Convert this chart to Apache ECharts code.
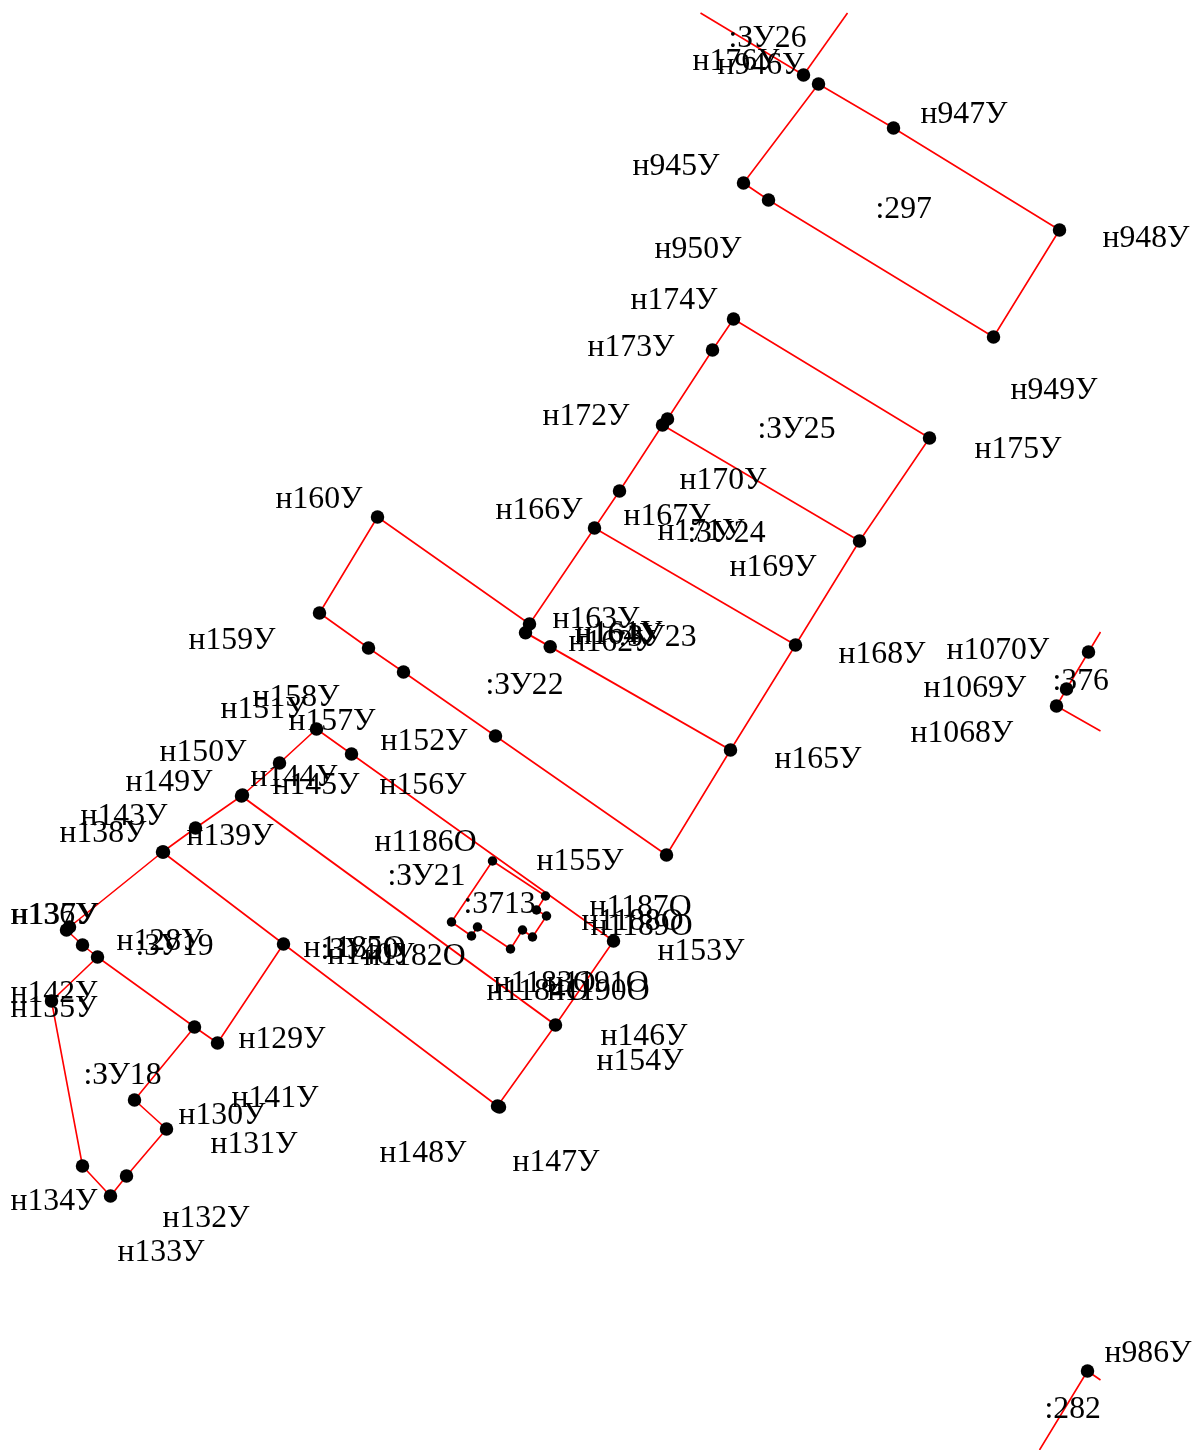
<!DOCTYPE html>
<html><head><meta charset="utf-8">
<style>html,body{margin:0;padding:0;background:#fff}#c{width:1192px;height:1450px}</style>
<script src="https://cdn.jsdelivr.net/npm/echarts@6/dist/echarts.min.js"></script>
</head><body><div id="c"></div>
<script>
// boundary polylines, in drawing units
const boundaries = [
 [[700,13],[803,75]], [[847,13],[803,75]],
 [[818,84],[893,128],[1059,230],[993,337],[768,200],[743,183],[818,84]],
 [[733,319],[929,438],[859,541],[795,645],[730,750],[666,855],[495,736],[403,672],[368,648],[319,613],[377,517],[529,624],[525,632.7]],
 [[733,319],[712,350],[667,419],[662,425],[619,491],[594,528],[529,624]],
 [[662,425],[859,541]],
 [[594,528],[795,645]],
 [[316,729],[279,763],[241,796],[195,828],[162,852],[69,927],[66,930],[82,945],[97,957],[194,1027],[217,1043],[283,944],[162,852]],
 [[283,944],[497,1106],[499,1107],[555,1025],[613,941],[351,754],[316,729]],
 [[97,957],[51,1001],[82,1166],[110,1196],[126,1176],[166,1129],[134,1100],[194,1027]],
 [[492,861],[451,922],[471,936],[477,927],[510,949],[522,930],[532,937],[546,916],[536,910],[545,896],[492,861]],
 [[1100,632],[1088,652],[1066,689],[1056,706],[1100,731]],
 [[1100,1380],[1087,1371],[1039,1450]]
];
// boundaries drawn twice in the source, so they read slightly heavier
const sharedBoundaries = [
 [[525,632.7],[730,750]],
 [[241,796],[555,1025]]
];
const pointsLarge = [
 [803,75],[818,84],[893,128],[1059,230],[993,337],[768,200],[743,183],
 [733,319],[712,350],[667,419],[662,425],[929,438],[859,541],[619,491],[594,528],[795,645],[730,750],[666,855],
 [495,736],[403,672],[368,648],[319,613],[377,517],[529,624],[525,632.7],[549.7,646.7],
 [316,729],[351,754],[279,763],[241,796],[242,795],[195,828],[162,852],[163,852],[69,927],[66,930],[82,945],[97,957],[51,1001],
 [283,944],[194,1027],[217,1043],[134,1100],[166,1129],[126,1176],[110,1196],[82,1166],
 [497,1106],[499,1107],[555,1025],[613,941],
 [1088,652],[1066,689],[1056,706],[1087,1371]
];
const pointsSmall = [[492,861],[545,896],[536,910],[546,916],[451,922],[477,927],[471,936],[522,930],[532,937],[510,949]];
const labelNames = [":ЗУ26","н176У","н946У","н947У","н945У",":297","н948У","н950У","н174У","н173У","н949У","н172У",":ЗУ25","н175У","н170У","н160У","н166У","н167У","н171У",":ЗУ24","н169У","н163У","н164У","н161У","н162У",":ЗУ23","н159У","н168У","н1070У","н1069У",":376",":ЗУ22","н158У","н151У","н157У","н1068У","н152У","н150У","н165У","н144У","н149У","н145У","н156У","н143У","н138У","н139У","н1186О","н155У",":ЗУ21",":3713","н1187О","н1188О","н1189О","н153У","н136У","н137У","н128У",":ЗУ19","н1185О",":ЗУ20","н140У","н1182О","н1183О","н1184О","н1191О","н1190О","н142У","н135У","н146У","н154У","н129У",":ЗУ18","н141У","н130У","н131У","н148У","н147У","н134У","н132У","н133У","н986У",":282"];
const labelAnchors = [[728,38],[692,61],[717,65],[920,114],[632,166],[875,209],[1102,238],[654,249],[630,300],[587,347],[1010,390],[542,416],[757,429],[974,449],[679,480],[275,499],[495,510],[623,516],[657,531],[687,533],[729,567],[552,619],[574,635],[575,633],[568,642],[618,637],[188,640],[838,654],[946,650],[923,688],[1052,681],[485,685],[252,697],[220,709],[288,721],[910,733],[380,741],[159,752],[774,759],[250,777],[125,782],[272,785],[379,785],[80,816],[59,833],[186,836],[374,842],[536,861],[387,876],[463,904],[589,907],[581,921],[590,926],[657,951],[10,915],[11,915],[116,941],[135,946],[303,948],[320,950],[327,955],[363,956],[493,983],[486,991],[546,983],[547,991],[10,993],[10,1008],[600,1036],[596,1061],[238,1039],[83,1075],[231,1098],[178,1115],[210,1144],[379,1153],[512,1162],[10,1201],[162,1218],[117,1252],[1104,1353],[1044,1409]];

const chart = echarts.init(document.getElementById('c'), null, {renderer:'canvas'});
const lineSeries = (b, w) => ({
  type:'line', data:b, symbol:'none', silent:true, animation:false, z:2,
  lineStyle:{color:'#ff0000', width:w, opacity:1}
});
const series = boundaries.map(b => lineSeries(b, 1.6)).concat(sharedBoundaries.map(b => lineSeries(b, 2)));
series.push({type:'scatter', data:pointsLarge, symbol:'circle', symbolSize:13.5, itemStyle:{color:'#000',opacity:1}, animation:false, z:3});
series.push({type:'scatter', data:pointsSmall, symbol:'circle', symbolSize:9.5, itemStyle:{color:'#000',opacity:1}, animation:false, z:3});
series.push({
  type:'scatter', symbolSize:0, animation:false, z:4, itemStyle:{opacity:1},
  data: labelNames.map((n,i)=>({value:labelAnchors[i], name:n})),
  label:{show:true, position:'right', distance:0, offset:[0,1], formatter:p=>p.name,
    fontFamily:'"Liberation Serif"', fontSize:31.7, color:'#000', opacity:1}
});
chart.setOption({
  animation:false,
  backgroundColor:'#fff',
  grid:{left:0,right:0,top:0,bottom:0},
  xAxis:{type:'value',min:-0.5,max:1191.5,show:false},
  yAxis:{type:'value',min:0,max:1450,inverse:true,show:false},
  series
});
</script></body></html>
